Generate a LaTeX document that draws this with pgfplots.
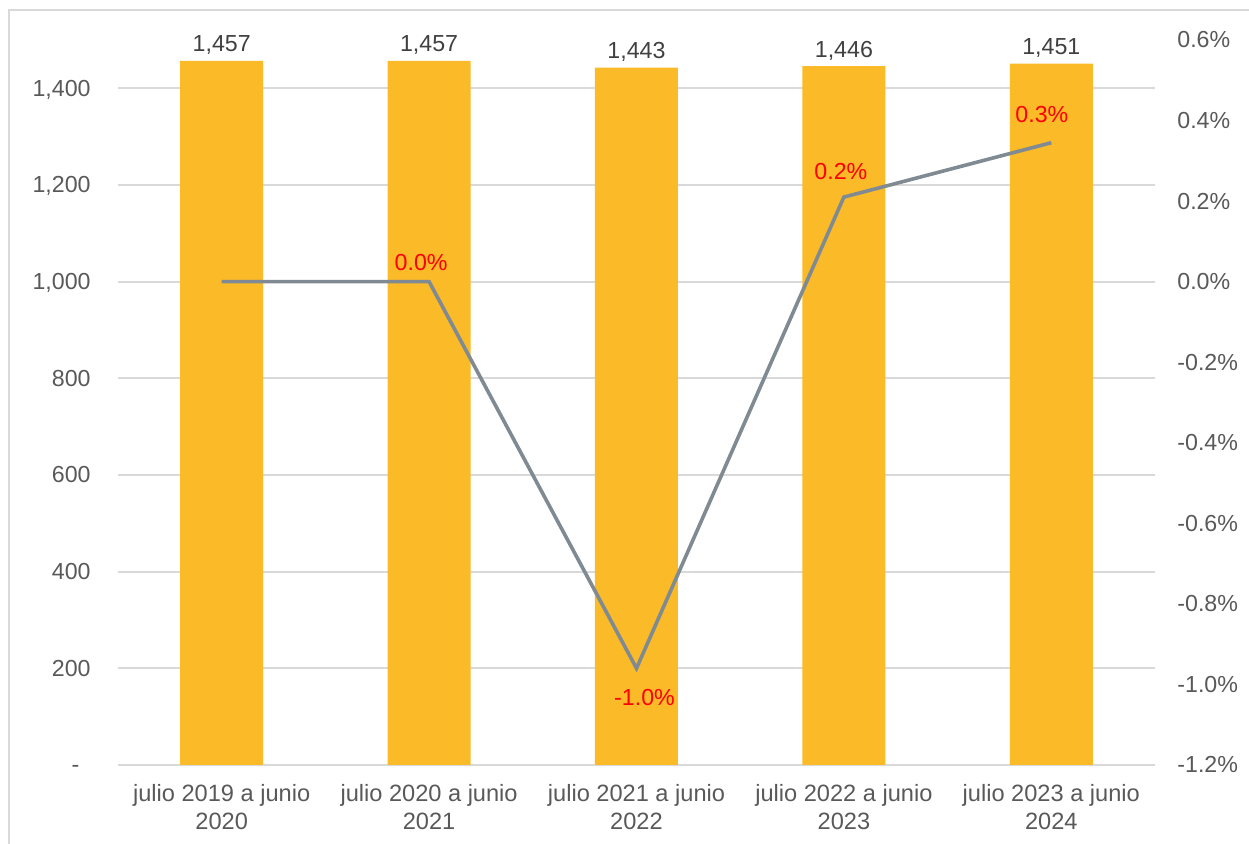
\documentclass[border=0pt]{standalone}
\usepackage{pgfplots}
\pgfplotsset{compat=1.18}
\usepackage{pgfplotstable}
\usepackage{fontspec}
\setmainfont{Liberation Sans}
\definecolor{barc}{RGB}{251,186,39}
\definecolor{linec}{RGB}{127,138,146}
\definecolor{gridc}{RGB}{217,217,217}
\definecolor{tickc}{RGB}{89,89,89}
\definecolor{labc}{RGB}{64,64,64}
\definecolor{redc}{RGB}{255,0,0}

\pgfplotstableread{
x v
0 1457
1 1457
2 1443
3 1446
4 1451
}\bars

\pgfplotstableread{
x p
0 0.0
1 0.0
2 -0.96
3 0.21
4 0.345
}\pct

\pgfplotstableread{
x p lab dx dy
1 0.0 0.0\% -4 5.8
2 -0.96 -1.0\% 4 -18.5
3 0.21 0.2\% -1.5 8.7
4 0.345 0.3\% -4.7 10
}\pctlab

\begin{document}
\begin{tikzpicture}
\useasboundingbox (0,0) rectangle (624.5pt,422pt);
\begin{scope}
\clip (0,0) rectangle (624.5pt,422pt);
\draw[gridc, line width=1pt] (4.5pt,-20pt) rectangle (660pt,417pt);
\end{scope}
\begin{axis}[
  at={(59pt,39.5pt)}, anchor=south west,
  scale only axis, width=518.5pt, height=362.5pt,
  xmin=-0.5, xmax=4.5, ymin=0, ymax=1500,
  axis line style={draw=none},
  major tick length=0pt,
  font=\fontsize{11.6}{14}\selectfont,
  xtick={0,1,2,3,4},
  xticklabels={{julio 2019 a junio\\2020},{julio 2020 a junio\\2021},{julio 2021 a junio\\2022},{julio 2022 a junio\\2023},{julio 2023 a junio\\2024}},
  xticklabel style={align=center, anchor=north, inner sep=0pt, yshift=-9.5pt, text=tickc, font=\fontsize{11.8}{14}\selectfont},
  ytick={0,200,400,600,800,1000,1200,1400},
  yticklabels={{\makebox[9.5pt][l]{-}},200,400,600,800,{1,000},{1,200},{1,400}},
  yticklabel style={anchor=base east, inner sep=0pt, xshift=-13.5pt, yshift=-4pt, text=tickc},
  ymajorgrids, grid style={gridc, line width=1pt},
  clip=false,
]
\addplot[ybar, bar width=41.5pt, fill=barc, draw=none,
  nodes near coords={\pgfmathprintnumber[1000 sep={,}, assume math mode=true]{\pgfplotspointmeta}},
  nodes near coords style={anchor=base, inner sep=0pt, yshift=4.5pt, text=labc, font=\fontsize{11.6}{14}\selectfont},
  point meta=y] table[x=x, y=v] {\bars};
\end{axis}
\begin{axis}[
  at={(59pt,39.5pt)}, anchor=south west,
  scale only axis, width=518.5pt, height=362.5pt,
  xmin=-0.5, xmax=4.5, ymin=-1.2, ymax=0.6,
  axis line style={draw=none},
  major tick length=0pt,
  font=\fontsize{11.6}{14}\selectfont,
  xtick=\empty,
  yticklabel pos=right,
  ytick={-1.2,-1.0,-0.8,-0.6,-0.4,-0.2,0,0.2,0.4,0.6},
  yticklabels={-1.2\%,-1.0\%,-0.8\%,-0.6\%,-0.4\%,-0.2\%,0.0\%,0.2\%,0.4\%,0.6\%},
  yticklabel style={anchor=base west, inner sep=0pt, xshift=11pt, yshift=-4pt, text=tickc},
  clip=false,
]
\addplot[linec, line width=1.8pt, mark=none] table[x=x, y=p] {\pct};
\addplot[draw=none, mark=none,
  visualization depends on={\thisrow{dx} \as \dx},
  visualization depends on={\thisrow{dy} \as \dy},
  nodes near coords,
  point meta=explicit symbolic,
  nodes near coords style={anchor=base, inner sep=0pt, xshift=\dx pt, yshift=\dy pt, text=redc, font=\fontsize{11.6}{14}\selectfont}
] table[x=x, y=p, meta=lab] {\pctlab};
\end{axis}
\end{tikzpicture}
\end{document}
